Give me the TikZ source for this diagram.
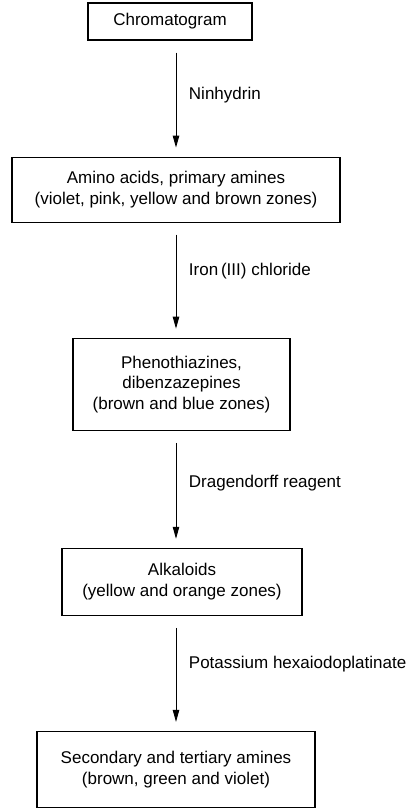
\documentclass[tikz,border=0pt]{standalone}
\usepackage{fontspec}
\setmainfont{Liberation Sans}
\usetikzlibrary{arrows.meta,positioning}

\begin{document}
\begin{tikzpicture}[x=1pt,y=1pt,font=\fontsize{17}{20.5}\selectfont,
  box/.style={draw,line width=1.1pt,align=center,inner sep=0pt},
  ar/.style={-{Triangle[length=12pt,width=6.5pt]},line width=0.9pt,
             shorten <=12pt,shorten >=9pt},
  lbl/.style={right=12.5pt,inner sep=0pt}]
\useasboundingbox (0,0) rectangle (406,-808);
\node[box,minimum width=164pt,minimum height=37pt] (chrom) at (170,-21.5) {Chromatogram};
\node[box,minimum width=328pt,minimum height=65pt,below=116pt of chrom,xshift=6pt] (amino)
  {Amino acids, primary amines\\(violet, pink, yellow and brown zones)};
\node[box,minimum width=217pt,minimum height=92pt,below=115pt of amino,xshift=5.5pt] (pheno)
  {Phenothiazines,\\dibenzazepines\\(brown and blue zones)};
\node[box,minimum width=240pt,minimum height=67pt,below=117pt of pheno,xshift=0.5pt] (alk)
  {Alkaloids\\(yellow and orange zones)};
\node[box,minimum width=278pt,minimum height=76pt,below=115pt of alk,xshift=-6pt] (sec)
  {Secondary and tertiary amines\\(brown, green and violet)};
% reagents
\draw[ar] (chrom.south -| amino.north) -- node[lbl,pos=0.47]{Ninhydrin} (amino.north);
\draw[ar] (amino.south) -- node[lbl,pos=0.42]{Iron\,(III) chloride} (amino.south |- pheno.north);
\draw[ar] (pheno.south -| amino.south) -- node[lbl,pos=0.45]{Dragendorff reagent} (alk.north -| amino.south);
\draw[ar] (alk.south -| sec.north) -- node[lbl,pos=0.42]{Potassium hexaiodoplatinate} (sec.north);
\end{tikzpicture}
\end{document}
